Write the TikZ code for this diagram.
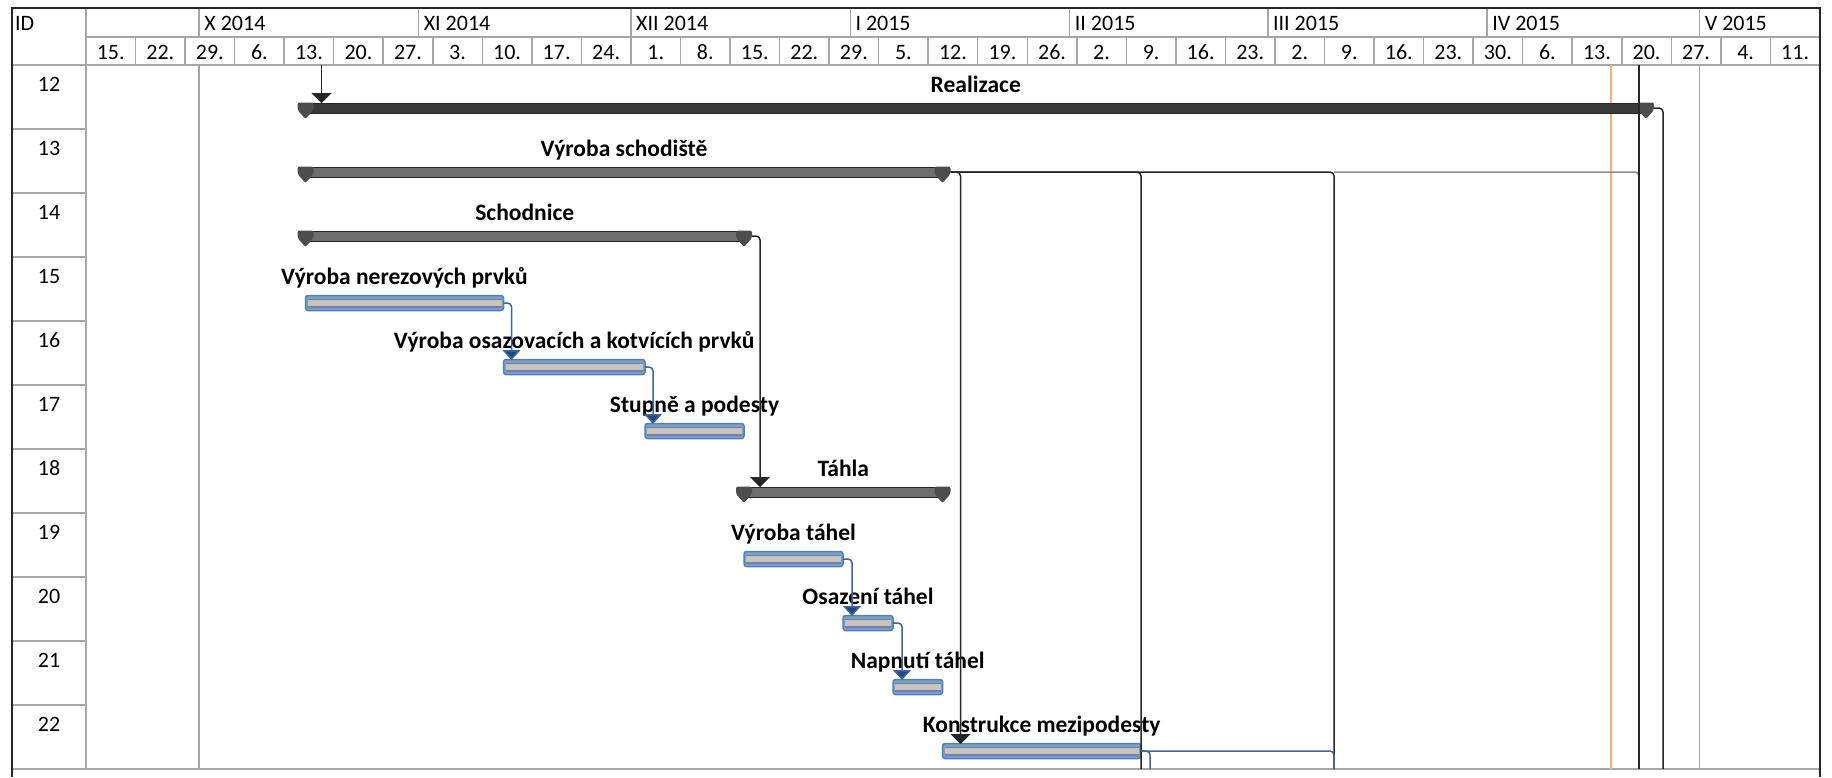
\documentclass[tikz,border=0pt]{standalone}
\usepackage{fontspec}
\setmainfont{Carlito}
\usepackage{xcolor}
\usepackage{tikz}
\usetikzlibrary{arrows.meta}

\definecolor{gridgray}{HTML}{A6A6A6}
\definecolor{bordergray}{HTML}{262626}
\definecolor{linegray}{HTML}{8C8C8C}
\definecolor{barblue}{HTML}{4F81BD}
\definecolor{barlight}{HTML}{C4C4C4}
\definecolor{bardark}{HTML}{808080}
\definecolor{linkblue}{HTML}{3B64A0}
\definecolor{arrowblue}{HTML}{1F497D}
\definecolor{capgray}{HTML}{4D4D4D}
\definecolor{sumdark}{HTML}{3A3A3A}
\definecolor{summid}{HTML}{6E6E6E}
\definecolor{statusline}{HTML}{F7B07A}

\begin{document}
\begin{tikzpicture}[x=1pt, y=-1pt, font=\fontsize{22}{26}\selectfont,
    every node/.style={inner sep=0pt},
    gridline/.style={gridgray, line width=1.5pt},
    link/.style={bordergray, line width=1.5pt, rounded corners=4pt},
    linkarrow/.style={link, -{Triangle[width=20pt, length=10pt]}},
    bluelink/.style={linkblue, line width=1.5pt, rounded corners=4pt},
    bluearrow/.style={bluelink, -{Triangle[width=18pt, length=10pt, fill=arrowblue]}},
    sumbar/.style={draw=bordergray, line width=1pt},
    taskbar/.style={fill=barblue!75, draw=barblue, line width=1.5pt, rounded corners=2.5pt},
    tasklabel/.style={anchor=base, font=\fontsize{23.5}{28}\selectfont\bfseries}]

    \useasboundingbox (0,0) rectangle (1832,777);

    % Table grid
    \draw[gridline] (86,37) -- (1820,37);
    \draw[gridline] (12,65) -- (1820,65);
    \draw[gridline] (12,769) -- (1820,769);
    \draw[gridline] (86,8) -- (86,769);
    \foreach \x in {199.2, 418.6, 631, 850.3, 1069.7, 1267.9, 1487.1, 1699.6}
        \draw[gridline] (\x,8) -- (\x,37);
    \foreach \k in {1,...,34}
        \draw[gridline] ({86+49.54*\k},37) -- ({86+49.54*\k},65);
    \foreach \x in {199.2, 1699.6}
        \draw[gridline] (\x,65) -- (\x,769);
    \foreach \k in {1,...,10}
        \draw[gridline] (12,{65+64*\k}) -- (86,{65+64*\k});

    % Outer border
    \draw[bordergray, line width=2.5pt] (12,777) -- (12,8) -- (1820,8) -- (1820,777);

    % Header texts
    \node[anchor=base west] (idhead) at (15,30) {ID};
    \foreach \x/\m [count=\i] in {199.2/X 2014, 418.6/XI 2014, 631/XII 2014, 850.3/I 2015, 1069.7/II 2015, 1267.9/III 2015, 1487.1/IV 2015, 1699.6/V 2015}
        \node[anchor=base west] (m\i) at (\x+5,30) {\m};
    \foreach \d [count=\k from 0] in {15,22,29,6,13,20,27,3,10,17,24,1,8,15,22,29,5,12,19,26,2,9,16,23,2,9,16,23,30,6,13,20,27,4,11}
        \node[anchor=base] (w\k) at ({86+49.54*\k+24.77},59) {\d.};
    \foreach \r in {12,...,22}
        \node[anchor=base] (id\r) at (49,{64*(\r-12)+91}) {\r};

    % Status date
    \draw[statusline, line width=1.5pt] (1611,65) -- (1611,769);

    % Summary bars
    \foreach \id/\xa/\xb/\col/\txt in {12/305.5/1646/sumdark/Realizace, 13/305.5/942.5/summid/Výroba schodiště, 14/305.5/744/summid/Schodnice, 18/744/942.5/summid/Táhla} {
        \pgfmathsetmacro\yc{64*(\id-12)+108}
        \filldraw[sumbar, fill=\col] (\xa,\yc-5) rectangle (\xb,\yc+5);
        \foreach \xc in {\xa,\xb}
            \fill[capgray, rounded corners=2pt] (\xc-8,\yc-5.5) -- (\xc+8,\yc-5.5) -- (\xc+8,\yc+2) -- (\xc,\yc+11) -- (\xc-8,\yc+2) -- cycle;
        \coordinate (s\id) at (\xa,\yc);
        \coordinate (e\id) at (\xb,\yc);
        \node[tasklabel] (l\id) at ({(\xa+\xb)/2},\yc-16) {\txt};
    }

    % Task bars
    \foreach \id/\xa/\xb/\txt in {15/305.5/503.5/Výroba nerezových prvků, 16/503.5/645/Výroba osazovacích a kotvících prvků, 17/645/744/Stupně a podesty, 19/744/843/Výroba táhel, 20/843/893/Osazení táhel, 21/893/942.5/Napnutí táhel, 22/942.5/1141/Konstrukce mezipodesty} {
        \pgfmathsetmacro\yc{64*(\id-12)+111}
        \filldraw[taskbar] (\xa,\yc-7.5) rectangle (\xb,\yc+7.5);
        \fill[bardark] (\xa+2,\yc-4.5) rectangle (\xb-2,\yc+4.5);
        \fill[barlight] (\xa+2,\yc-3) rectangle (\xb-2,\yc+3);
        \coordinate (s\id) at (\xa,\yc);
        \coordinate (e\id) at (\xb,\yc);
        \node[tasklabel] (l\id) at ({(\xa+\xb)/2},\yc-19) {\txt};
    }

    % Free ends of links
    \coordinate (in12) at (321.5,65);
    \coordinate (out12) at (1663,769);
    \coordinate (in13) at (1639,65);
    \coordinate (out13a) at (1141,769);
    \coordinate (out13b) at (1334,769);
    \coordinate (out13c) at (1639,769);
    \coordinate (out22a) at (1150,769);
    \coordinate (out22b) at (1334,769);

    % Links between summary bars
    \draw[linkarrow] (in12) -- ([xshift=16pt,yshift=5pt]s12);
    \draw[link] ([xshift=8pt]e12) -| (out12);
    \draw[link, linegray] (out13b |- e13) -| (out13c);
    \draw[link] (in13) -- (out13c);
    \draw[link] ([xshift=8pt]e13) -| (out13a);
    \draw[link] ([xshift=8pt]e13) -| (out13b);
    \draw[linkarrow] ([xshift=8pt]e13) -| ([xshift=18pt,yshift=7pt]s22);
    \draw[linkarrow] ([xshift=8pt]e14) -| ([xshift=16pt,yshift=5pt]s18);

    % Links between tasks
    \draw[bluearrow] (e15) -| ([xshift=8pt,yshift=7pt]s16);
    \draw[bluearrow] (e16) -| ([xshift=8pt,yshift=7pt]s17);
    \draw[bluearrow] (e19) -| ([xshift=9pt,yshift=7pt]s20);
    \draw[bluearrow] (e20) -| ([xshift=9pt,yshift=7pt]s21);
    \draw[bluelink] (e22) -| (out22a);
    \draw[bluelink] (e22) -| (out22b);

\end{tikzpicture}
\end{document}
